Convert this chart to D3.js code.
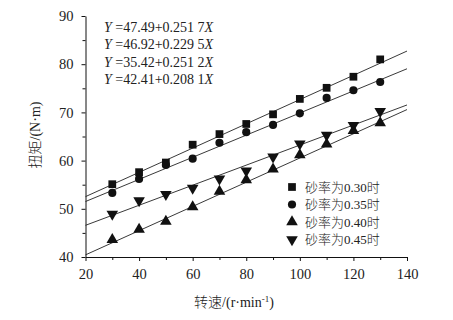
<!DOCTYPE html>
<html>
<head>
<meta charset="utf-8">
<script src="https://cdn.jsdelivr.net/npm/d3@7"></script>
<style>
  body { margin: 0; background: #fff; }
  text { font-family: "Liberation Serif", "Noto Sans CJK SC", serif; fill: #222; }
</style>
</head>
<body>
<div id="chart"></div>
<script>
// speed (r/min)
var speeds = [30, 40, 50, 60, 70, 80, 90, 100, 110, 120, 130]
// torque (N·m) for each sand ratio
var s030 = [55.1, 57.6, 59.6, 63.3, 65.5, 67.6, 69.6, 72.8, 75.1, 77.4, 81.0]
var s035 = [53.3, 56.2, 59.1, 60.4, 63.7, 65.9, 67.4, 69.8, 73.0, 74.6, 76.3]
var s040 = [43.6, 45.7, 47.4, 50.4, 53.6, 56.0, 58.2, 61.2, 63.4, 66.2, 67.8]
var s045 = [48.9, 51.7, 53.0, 54.3, 56.2, 57.9, 60.8, 63.5, 65.3, 67.3, 70.2]
var seriesNames = ['砂率为0.30时', '砂率为0.35时', '砂率为0.40时', '砂率为0.45时']
var intercepts = [47.49, 46.92, 35.42, 42.41]
var slopes = [0.2517, 0.2295, 0.2512, 0.2081]
var eqLabels = ['47.49+0.251 7', '46.92+0.229 5', '35.42+0.251 2', '42.41+0.208 1']
var xTicks = [20, 40, 60, 80, 100, 120, 140]
var yTicks = [40, 50, 60, 70, 80, 90]

var W = 453, H = 320
var m = {left: 85.5, top: 16, right: 46, bottom: 63}

var svg = d3.select('#chart').append('svg').attr('width', W).attr('height', H)

var x = d3.scaleLinear().domain([20, 140]).range([m.left, W - m.right])
var y = d3.scaleLinear().domain([40, 90]).range([H - m.bottom, m.top])

var symbols = [
  d3.symbol().type(d3.symbolSquare).size(60),
  d3.symbol().type(d3.symbolCircle).size(52),
  d3.symbol().type(d3.symbolTriangle).size(58),
  d3.symbol().type(d3.symbolTriangle).size(58)
]
var rotations = [0, 0, 0, 180]

// minor ticks
svg.append('g').attr('transform', 'translate(0,' + y(40) + ')')
  .call(d3.axisBottom(x).tickValues(d3.range(30, 140, 20)).tickSize(3).tickFormat(''))
  .call(function(g){ g.select('.domain').remove() })
svg.append('g').attr('transform', 'translate(' + x(20) + ',0)')
  .call(d3.axisLeft(y).tickValues(d3.range(45, 90, 10)).tickSize(3).tickFormat(''))
  .call(function(g){ g.select('.domain').remove() })

var xAxis = svg.append('g').attr('transform', 'translate(0,' + y(40) + ')')
  .call(d3.axisBottom(x).tickValues(xTicks).tickSize(4).tickSizeOuter(0).tickPadding(8))
xAxis.selectAll('text').style('font-size', '14.5px').attr('fill', '#222')

var yAxis = svg.append('g').attr('transform', 'translate(' + x(20) + ',0)')
  .call(d3.axisLeft(y).tickValues(yTicks).tickSize(4).tickSizeOuter(0).tickPadding(8))
yAxis.selectAll('text').style('font-size', '14.5px').attr('fill', '#222')

svg.selectAll('.domain, .tick line').attr('stroke', '#111')

// fitted lines
var allSeries = [s030, s035, s040, s045]
allSeries.forEach(function(vals, i){
  svg.append('line')
    .attr('x1', x(20)).attr('y1', y(intercepts[i] + slopes[i] * 20))
    .attr('x2', x(140)).attr('y2', y(intercepts[i] + slopes[i] * 140))
    .attr('stroke', '#222').attr('stroke-width', 0.9)

  svg.append('g').selectAll('path')
    .data(vals).enter().append('path')
    .attr('d', symbols[i])
    .attr('transform', function(d, j){
      return 'translate(' + x(speeds[j]) + ',' + y(d) + ') rotate(' + rotations[i] + ')'
    })
    .attr('fill', '#111')
})

// equations
eqLabels.forEach(function(eq, i){
  var t = svg.append('text').attr('x', 104).attr('y', 31.5 + i * 17.6).style('font-size', '14px')
  t.append('tspan').style('font-style', 'italic').text('Y')
  t.append('tspan').text(' =' + eq)
  t.append('tspan').style('font-style', 'italic').text('X')
})

// legend
var legend = svg.append('g')
seriesNames.forEach(function(name, i){
  var ly = 187 + i * 17.5
  legend.append('path').attr('d', symbols[i])
    .attr('transform', 'translate(292,' + ly + ') rotate(' + rotations[i] + ')')
    .attr('fill', '#111')
  legend.append('text').attr('x', 305).attr('y', ly + 4.5)
    .style('font-size', '13px').style('font-weight', 300).text(name)
})

// axis titles
var xt = svg.append('text').attr('x', 234).attr('y', 307).attr('text-anchor', 'middle')
  .style('font-size', '14px').style('font-weight', 300)
xt.append('tspan').text('转速/(r·min')
xt.append('tspan').attr('dy', -5).style('font-size', '9px').text('-1')
xt.append('tspan').attr('dy', 5).text(')')

svg.append('text').attr('transform', 'translate(40,135) rotate(-90)')
  .attr('text-anchor', 'middle').style('font-size', '14px').style('font-weight', 300).text('扭矩/(N·m)')
</script>
</body>
</html>
